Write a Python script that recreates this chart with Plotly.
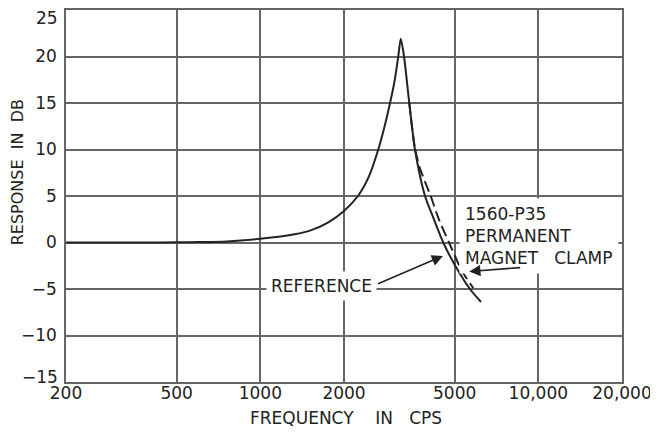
import plotly.graph_objects as go
import math

# ---- data ----
freq_ref = [200, 300, 400, 500, 600, 760, 1000, 1250, 1500, 1750, 2000, 2245, 2450, 2657,
            2800, 2929, 3050, 3135, 3200, 3288, 3434, 3600, 3912, 4200, 4550, 5050, 5678, 6222]
resp_ref = [0, 0, 0, 0.02, 0.05, 0.12, 0.4, 0.75, 1.25, 2.15, 3.4, 5, 7, 10,
            12.5, 15, 17.6, 20, 21.9, 20, 15, 10, 5, 2.6, 0, -2.6, -5, -6.4]

freq_clamp = [3434, 3600, 3750, 4100, 4400, 4773, 5300, 5835]
resp_clamp = [15, 10.1, 8, 5, 2.4, 0, -3, -4.9]

x_ticks = [200, 500, 1000, 2000, 5000, 10000, 20000]
x_tick_text = ["200", "500", "1000", "2000", "5000", "10,000", "20,000"]
y_ticks = [-15, -10, -5, 0, 5, 10, 15, 20, 25]
y_tick_text = ["", "\u221210", "\u22125", "0", "5", "10", "15", "20", ""]

INK = "#222222"
GRID = "#666666"
FONT = "DejaVu Sans"

fig = go.Figure()
fig.add_trace(go.Scatter(x=freq_ref, y=resp_ref, mode="lines",
                         line=dict(color=INK, width=2, shape="spline", smoothing=0.7),
                         showlegend=False))
fig.add_trace(go.Scatter(x=freq_clamp, y=resp_clamp, mode="lines",
                         line=dict(color=INK, width=2, dash="11px,5px", shape="spline", smoothing=0.7),
                         showlegend=False))

L = math.log10
nb = "\u00a0"
ann = []
# clamp label
ann.append(dict(x=L(5450), y=0.75, xref="x", yref="y", xanchor="left", yanchor="middle",
                xshift=-6,
                text="1560-P35<br>PERMANENT<br>MAGNET" + nb * 3 + "CLAMP", align="left",
                showarrow=False, bgcolor="white", borderpad=5,
                font=dict(family=FONT, size=17, color=INK)))
# reference label
ann.append(dict(x=L(1090), y=-4.65, xref="x", yref="y", xanchor="left", yanchor="middle",
                xshift=-5,
                text="REFERENCE", showarrow=False, bgcolor="white", borderpad=4,
                font=dict(family=FONT, size=17, color=INK)))
# arrows
ann.append(dict(x=L(4541), y=-1.44, ax=L(2620), ay=-4.5, xref="x", yref="y",
                axref="x", ayref="y", text="", showarrow=True, arrowhead=2,
                arrowsize=1.4, arrowwidth=1.6, arrowcolor=INK))
ann.append(dict(x=L(5644), y=-3.12, ax=L(8711), ay=-2.69, xref="x", yref="y",
                axref="x", ayref="y", text="", showarrow=True, arrowhead=2,
                arrowsize=1.4, arrowwidth=1.6, arrowcolor=INK))
# end tick labels of y axis (offset inward as in the original)
ann.append(dict(x=-0.011, y=25, xref="paper", yref="y", xanchor="right", yanchor="middle",
                yshift=-8, text="25", showarrow=False, font=dict(family=FONT, size=17, color=INK)))
ann.append(dict(x=-0.011, y=-15, xref="paper", yref="y", xanchor="right", yanchor="middle",
                yshift=5, text="\u221215", showarrow=False, font=dict(family=FONT, size=17, color=INK)))
# axis titles
ann.append(dict(x=0.504, y=-0.098, xref="paper", yref="paper", xanchor="center", yanchor="middle",
                text="FREQUENCY" + nb * 4 + "IN" + nb * 3 + "CPS", showarrow=False,
                font=dict(family=FONT, size=17, color=INK)))
ann.append(dict(x=-0.088, y=0.564, xref="paper", yref="paper", xanchor="center", yanchor="middle",
                text="RESPONSE" + nb * 2 + "IN" + nb * 2 + "DB", showarrow=False, textangle=-90,
                font=dict(family=FONT, size=16, color=INK)))

# page body has an 8px margin; size the figure so the plot lands where the original's does
fig.update_layout(
    width=650, height=425,
    margin=dict(l=58, r=36, t=0, b=51),
    plot_bgcolor="white", paper_bgcolor="white",
    annotations=ann,
    font=dict(family=FONT, size=17, color=INK),
)
fig.update_xaxes(type="log", range=[L(200), L(20000)], tickvals=x_ticks, ticktext=x_tick_text,
                 showgrid=True, gridcolor=GRID, gridwidth=1.5, showline=True, linecolor=GRID,
                 linewidth=1.5, mirror=True, ticks="", ticklen=0, ticklabelstandoff=-5,
                 zeroline=False, tickfont=dict(family=FONT, size=17, color=INK))
fig.update_yaxes(range=[-15, 25], tickvals=y_ticks, ticktext=y_tick_text,
                 showgrid=True, gridcolor=GRID, gridwidth=1.5, showline=True, linecolor=GRID,
                 linewidth=1.5, mirror=True, ticks="", ticklen=0, ticklabelstandoff=4,
                 zeroline=False, tickfont=dict(family=FONT, size=17, color=INK))

fig.write_html("out.html")
